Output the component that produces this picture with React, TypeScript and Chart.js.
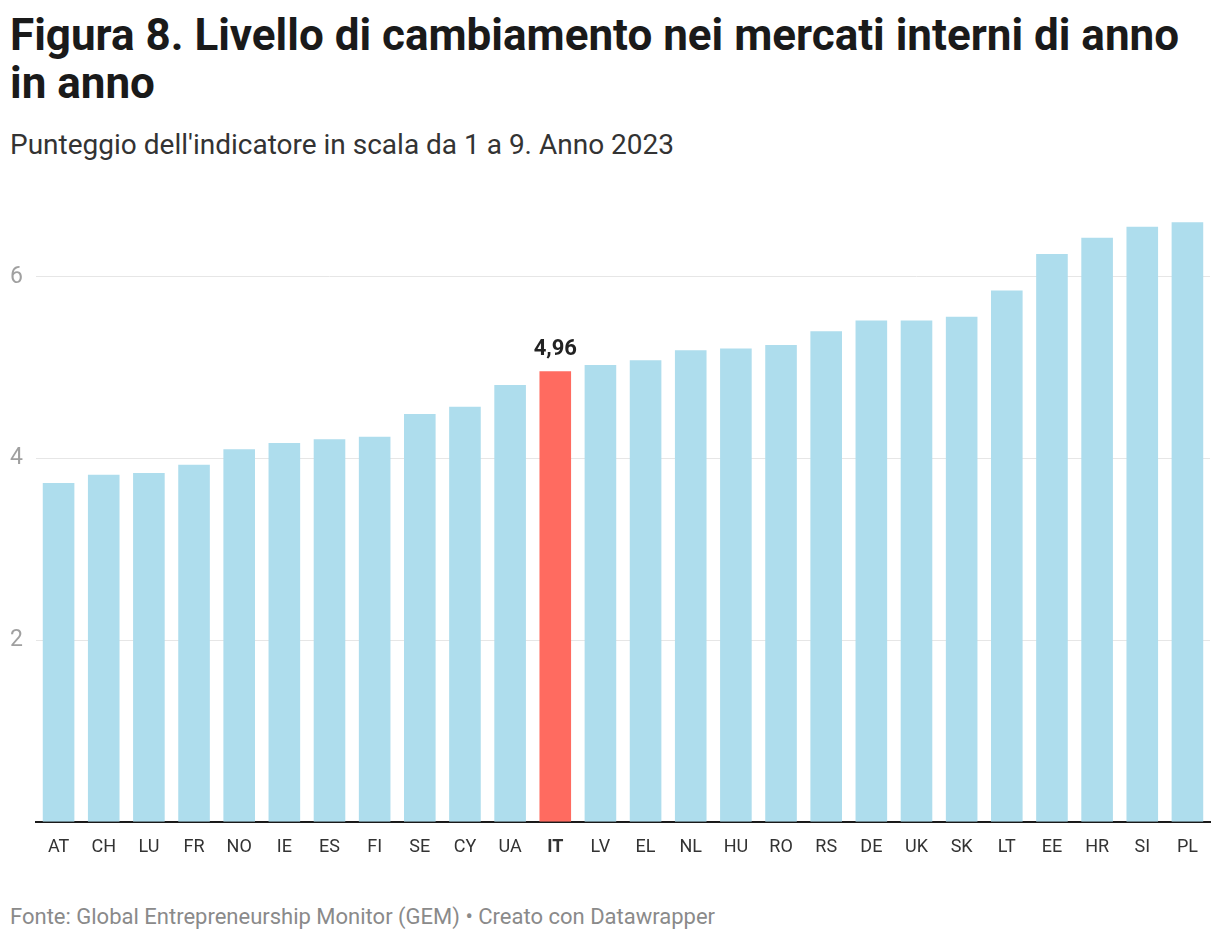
import React, { useEffect, useRef } from "react";
import { Chart, registerables } from "chart.js";

Chart.register(...registerables);

const countries = ["AT","CH","LU","FR","NO","IE","ES","FI","SE","CY","UA","IT","LV","EL","NL","HU","RO","RS","DE","UK","SK","LT","EE","HR","SI","PL"];
const scores = [3.73,3.82,3.84,3.93,4.10,4.17,4.21,4.24,4.49,4.57,4.81,4.96,5.03,5.08,5.19,5.21,5.25,5.40,5.52,5.52,5.56,5.85,6.25,6.43,6.55,6.60];
const yTicks = [2, 4, 6];
const highlight = "IT";
const highlightLabel = "4,96";

const BLUE = "#aedded";
const RED = "#ff6b60";

export default function App() {
  const ref = useRef<HTMLCanvasElement | null>(null);

  useEffect(() => {
    if (!ref.current) return;
    const hiIdx = countries.indexOf(highlight);
    const labelPlugin = {
      id: "hiLabel",
      afterDatasetsDraw(chart: any) {
        const meta = chart.getDatasetMeta(0);
        const el = meta.data[hiIdx];
        if (!el) return;
        const ctx = chart.ctx;
        ctx.save();
        ctx.font = "bold 22px Roboto";
        ctx.fillStyle = "#222222";
        ctx.textAlign = "center";
        ctx.textBaseline = "alphabetic";
        ctx.fillText(highlightLabel, el.x, el.y - 16);
        ctx.restore();
      },
    };
    const chart = new Chart(ref.current, {
      type: "bar",
      data: {
        labels: countries,
        datasets: [
          {
            data: scores,
            backgroundColor: countries.map((c) => (c === highlight ? RED : BLUE)),
            categoryPercentage: 0.7,
            barPercentage: 1,
            borderWidth: 0,
          },
        ],
      },
      options: {
        animation: false,
        responsive: false,
        maintainAspectRatio: false,
        layout: { padding: { top: 16, right: 10, left: 0, bottom: 0 } },
        plugins: { legend: { display: false }, tooltip: { enabled: false } },
        scales: {
          x: {
            grid: { display: false, drawTicks: false },
            border: { display: true, color: "#1a1a1a", width: 2 },
            ticks: {
              padding: 15,
              color: "#333333",
              font: (c: any) => ({
                family: "Roboto",
                size: 18,
                weight: c.index === hiIdx ? "bold" : "normal",
              }),
              maxRotation: 0,
              autoSkip: false,
            },
            afterFit: (axis: any) => {
              axis.height = 48.3;
              axis.paddingLeft = 0;
              axis.paddingRight = 0;
            },
          },
          y: {
            min: 0,
            max: 7,
            afterBuildTicks: (axis: any) => {
              axis.ticks = yTicks.map((v) => ({ value: v }));
            },
            grid: { color: "#e6e6e6", lineWidth: 1, drawTicks: false },
            border: { display: false },
            ticks: {
              padding: 13,
              color: "#a0a0a0",
              font: { family: "Roboto", size: 23 },
            },
            afterFit: (axis: any) => {
              axis.width = 36;
              axis.paddingTop = 0;
              axis.paddingBottom = 0;
            },
          },
        },
      },
      plugins: [labelPlugin],
    });
    return () => chart.destroy();
  }, []);

  return (
    <div
      style={{
        position: "absolute",
        left: 0,
        top: 0,
        width: 1220,
        height: 942,
        background: "#ffffff",
        fontFamily: "Roboto, sans-serif",
        overflow: "hidden",
      }}
    >
      <div
        style={{
          position: "absolute",
          left: 10,
          top: 11,
          fontSize: 44,
          lineHeight: "48px",
          fontWeight: 700,
          color: "#1a1a1a",
          whiteSpace: "nowrap",
        }}
      >
        Figura 8. Livello di cambiamento nei mercati interni di anno
        <br />
        in anno
      </div>
      <div
        style={{
          position: "absolute",
          left: 10,
          top: 128,
          fontSize: 28,
          lineHeight: "34px",
          color: "#333333",
          whiteSpace: "nowrap",
        }}
      >
        Punteggio dell'indicatore in scala da 1 a 9. Anno 2023
      </div>
      <canvas
        ref={ref}
        width={1220}
        height={700}
        style={{ position: "absolute", left: 0, top: 170, width: 1220, height: 700 }}
      />
      <div
        style={{
          position: "absolute",
          left: 10,
          top: 905,
          fontSize: 22,
          lineHeight: "24px",
          color: "#8a8a8a",
          whiteSpace: "nowrap",
        }}
      >
        Fonte: Global Entrepreneurship Monitor (GEM) • Creato con Datawrapper
      </div>
    </div>
  );
}
